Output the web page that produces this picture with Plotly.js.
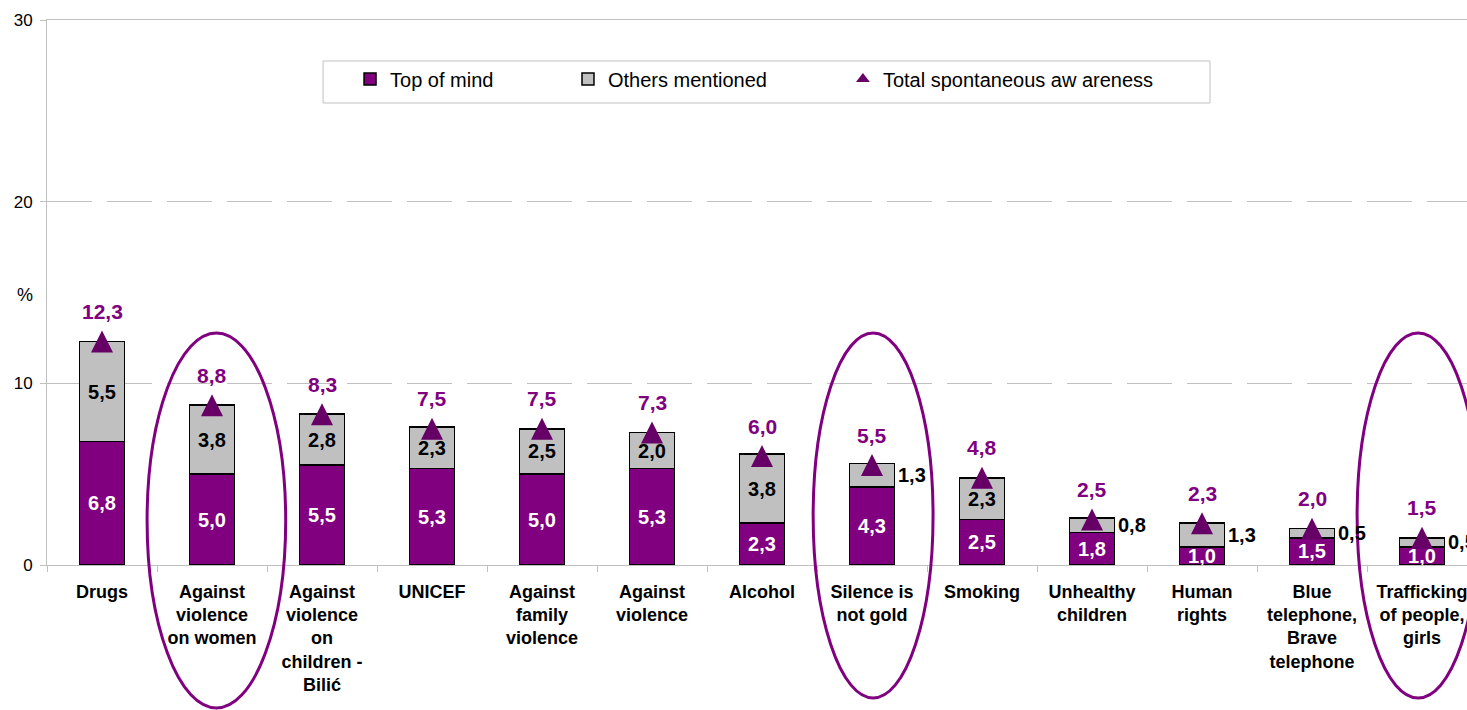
<!DOCTYPE html>
<html>
<head>
<meta charset="utf-8">
<script src="https://cdn.plot.ly/plotly-3.0.1.min.js"></script>
<style>
  html, body { margin: 0; padding: 0; background: #fff; }
  #chart { width: 1467px; height: 710px; }
</style>
</head>
<body>
<div id="chart"></div>
<script>
// ---- data ----
const categories = [
  "Drugs",
  "Against<br>violence<br>on women",
  "Against<br>violence<br>on<br>children -<br>Bilić",
  "UNICEF",
  "Against<br>family<br>violence",
  "Against<br>violence",
  "Alcohol",
  "Silence is<br>not gold",
  "Smoking",
  "Unhealthy<br>children",
  "Human<br>rights",
  "Blue<br>telephone,<br>Brave<br>telephone",
  "Trafficking<br>of people,<br>girls"
];
const topOfMind = [6.8, 5.0, 5.5, 5.3, 5.0, 5.3, 2.3, 4.3, 2.5, 1.8, 1.0, 1.5, 1.0];
const othersMentioned = [5.5, 3.8, 2.8, 2.3, 2.5, 2.0, 3.8, 1.3, 2.3, 0.8, 1.3, 0.5, 0.5];
const totalAwareness = [12.3, 8.8, 8.3, 7.5, 7.5, 7.3, 6.0, 5.5, 4.8, 2.5, 2.3, 2.0, 1.5];
const seriesNames = ["Top of mind", "Others mentioned", "Total spontaneous aw areness"];
const highlighted = ["Against<br>violence<br>on women", "Silence is<br>not gold", "Trafficking<br>of people,<br>girls"];
const yTicks = [0, 10, 20, 30];

// ---- styles ----
const FONT = "Arial, 'Liberation Sans', sans-serif";
const PURPLE = "#800080";
const DARKPURPLE = "#660066";
const GREY = "#C0C0C0";
const fmt = v => v.toFixed(1).replace('.', ',');
const INSIDE_MIN = 2.0;

const traces = [
  {
    type: 'bar', name: seriesNames[0], x: categories, y: topOfMind,
    width: 0.41,
    marker: { color: PURPLE, line: { color: '#000', width: 1.5 } },
    text: topOfMind.map(fmt), textposition: 'inside', insidetextanchor: 'middle',
    textangle: 0, constraintext: 'none', cliponaxis: false,
    textfont: { family: FONT, size: 20, color: '#fff', weight: 'bold' },
    legend: 'legend', hoverinfo: 'skip'
  },
  {
    type: 'bar', name: seriesNames[1], x: categories, y: othersMentioned,
    width: 0.41,
    marker: { color: GREY, line: { color: '#000', width: 1.5 } },
    text: othersMentioned.map(v => v >= INSIDE_MIN ? fmt(v) : ''), textposition: 'inside', insidetextanchor: 'middle',
    textangle: 0, constraintext: 'none', cliponaxis: false,
    textfont: { family: FONT, size: 20, color: '#000', weight: 'bold' },
    legend: 'legend2', hoverinfo: 'skip'
  },
  {
    type: 'scatter', mode: 'markers', name: seriesNames[2], x: categories, y: totalAwareness,
    marker: { symbol: 'arrow-down', angle: 180, size: 22, standoff: 11, color: DARKPURPLE, line: { width: 0 } },
    showlegend: false, cliponaxis: false, hoverinfo: 'skip'
  },
  {
    type: 'scatter', mode: 'markers', name: seriesNames[2], x: [null], y: [null],
    marker: { symbol: 'triangle-up', size: 12, color: DARKPURPLE, line: { width: 0 } },
    legend: 'legend3', showlegend: true, hoverinfo: 'skip'
  }
];

const annotations = [];
categories.forEach((c, i) => {
  annotations.push({
    x: c, y: totalAwareness[i], xref: 'x', yref: 'y', yshift: 30,
    text: fmt(totalAwareness[i]), showarrow: false, xanchor: 'center', yanchor: 'middle',
    font: { family: FONT, size: 21, color: PURPLE, weight: 'bold' }
  });
  if (othersMentioned[i] < INSIDE_MIN) {
    annotations.push({
      x: c, y: topOfMind[i] + othersMentioned[i] / 2, xref: 'x', yref: 'y', xshift: 24,
      text: fmt(othersMentioned[i]), showarrow: false, xanchor: 'left', yanchor: 'middle',
      font: { family: FONT, size: 20, color: '#000', weight: 'bold' }
    });
  }
});
annotations.push({
  xref: 'paper', yref: 'paper', x: 0, xshift: -22, y: 0.495, text: '%', showarrow: false,
  xanchor: 'center', yanchor: 'middle', font: { family: FONT, size: 18, color: '#000' }
});

// highlight ellipses (decoration)
const ellipseSpec = [
  { cat: highlighted[0], left: 0.59, right: 0.67, top: 0.4257, bottom: -0.2624 },
  { cat: highlighted[1], left: 0.535, right: 0.555, top: 0.4257, bottom: -0.244 },
  { cat: highlighted[2], left: 0.59, right: 0.52, top: 0.4257, bottom: -0.244 }
];
const shapes = ellipseSpec.map(e => {
  const idx = categories.indexOf(e.cat);
  return {
    type: 'circle', xref: 'x', yref: 'paper',
    x0: idx - e.left, x1: idx + e.right, y0: e.bottom, y1: e.top,
    line: { color: PURPLE, width: 3 }, layer: 'above'
  };
});
shapes.push({
  type: 'rect', xref: 'paper', yref: 'paper',
  x0: 0.1944, x1: 0.8190, y0: 0.8477, y1: 0.9248,
  line: { color: GREY, width: 1 }, fillcolor: '#fff', layer: 'below'
});

const legendBase = {
  orientation: 'h', yanchor: 'middle', xanchor: 'left', y: 0.8917,
  bgcolor: 'rgba(0,0,0,0)', borderwidth: 0,
  font: { family: FONT, size: 20, color: '#000' }
};

const layout = {
  width: 1467, height: 710,
  margin: { l: 47, r: 0, t: 20, b: 145, pad: 0 },
  paper_bgcolor: '#fff', plot_bgcolor: '#fff',
  barmode: 'stack',
  showlegend: true,
  font: { family: FONT, color: '#000' },
  legend: Object.assign({}, legendBase, { x: 0.2134 }),
  legend2: Object.assign({}, legendBase, { x: 0.3669 }),
  legend3: Object.assign({}, legendBase, { x: 0.5605 }),
  xaxis: {
    type: 'category', range: [-0.5, 12.409], automargin: false,
    showline: true, linecolor: GREY, linewidth: 1, mirror: true,
    ticks: 'outside', tickson: 'boundaries', ticklen: 6, tickcolor: GREY,
    showgrid: false, zeroline: false,
    tickfont: { family: FONT, size: 18, color: '#000', weight: 'bold' },
    ticklabelstandoff: 10
  },
  yaxis: {
    range: [0, 30], tickvals: yTicks, ticktext: yTicks.map(String), automargin: false,
    showline: true, linecolor: GREY, linewidth: 1,
    ticks: 'outside', ticklen: 6, tickcolor: GREY,
    showgrid: true, gridcolor: GREY, gridwidth: 1, griddash: '45px,15px',
    zeroline: false, ticklabelstandoff: 4,
    tickfont: { family: FONT, size: 17, color: '#000' }
  },
  annotations: annotations,
  shapes: shapes
};

Plotly.newPlot('chart', traces, layout, { staticPlot: true, displayModeBar: false });
</script>
</body>
</html>
